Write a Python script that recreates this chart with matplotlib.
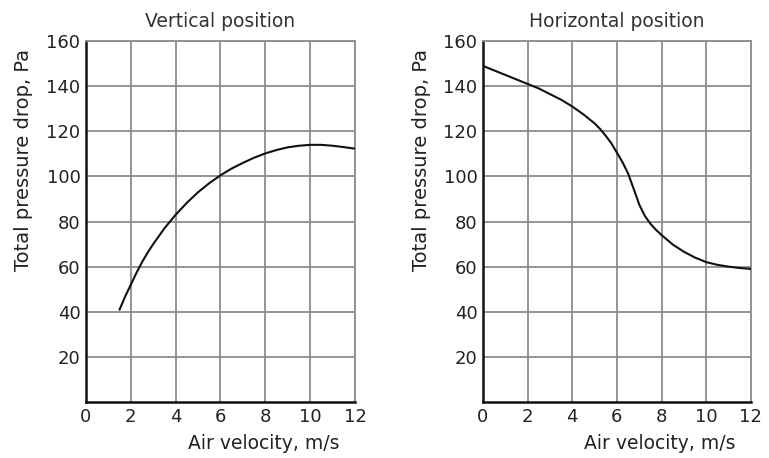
import matplotlib
matplotlib.use('Agg')
import matplotlib.pyplot as plt

plt.rcParams['font.family'] = ['DejaVu Sans']

# values
vert_x = [1.5, 1.75, 2, 2.25, 2.5, 2.75, 3, 3.5, 4, 4.5, 5, 5.5, 6, 6.5, 7, 7.5, 8, 8.5, 9, 9.5, 10, 10.5, 11, 11.5, 12]
vert_y = [41, 46.8, 52, 57.2, 62, 66.2, 70, 77, 83, 88.3, 93, 97, 100.5, 103.5, 106, 108.3, 110.2, 111.7, 112.9, 113.6, 114, 114, 113.6, 113, 112.3]

hor_x = [0, 0.5, 1, 1.5, 2, 2.5, 3, 3.5, 4, 4.5, 5, 5.25, 5.5, 5.75, 6, 6.25, 6.5, 6.75, 7, 7.25, 7.5, 7.75,
         8, 8.5, 9, 9.5, 10, 10.5, 11, 11.5, 12]
hor_y = [149, 147, 145, 143, 141, 139, 136.5, 134, 131, 127.5, 123.5, 121, 118, 114.7, 110.5, 106.3, 101.3, 94.5, 87.5,
         82.5, 79, 76.3, 74, 69.8, 66.6, 64, 62, 60.8, 60, 59.4, 59]

x_ticks = [0, 2, 4, 6, 8, 10, 12]
y_ticks = [20, 40, 60, 80, 100, 120, 140, 160]
titles = ['Vertical position', 'Horizontal position']

fig = plt.figure(figsize=(7.69, 4.58), dpi=100)
ax1 = fig.add_axes([0.1118, 0.1223, 0.3498, 0.788])
ax2 = fig.add_axes([0.628, 0.1223, 0.3485, 0.788])

txt = '#222222'
for ax, xs, ys, title in [(ax1, vert_x, vert_y, titles[0]), (ax2, hor_x, hor_y, titles[1])]:
    ax.plot(xs, ys, color='#111111', lw=1.5, zorder=3)
    ax.set_xlim(0, 12)
    ax.set_ylim(0, 160)
    ax.set_xticks(x_ticks)
    ax.set_yticks(y_ticks)
    ax.grid(True, color='#8c8c8c', lw=1.3)
    ax.set_axisbelow(True)
    ax.tick_params(length=0, labelsize=13, labelcolor=txt, pad=4)
    for side in ['top', 'right']:
        ax.spines[side].set_color('#8c8c8c')
        ax.spines[side].set_linewidth(1.3)
    for side in ['left', 'bottom']:
        ax.spines[side].set_color('#111111')
        ax.spines[side].set_linewidth(1.8)
    ax.set_title(title, fontsize=13.5, color='#333333', pad=10)
    ax.set_xlabel('Air velocity, m/s', fontsize=13.5, color=txt)
    ax.xaxis.set_label_coords(0.66, -0.09)
    ax.xaxis.label.set_va('top')
    ax.set_ylabel('Total pressure drop, Pa', fontsize=14, color=txt)
    ax.yaxis.label.set_va('center')

ax1.yaxis.set_label_coords(-0.234, 0.67)
ax2.yaxis.set_label_coords(-0.228, 0.67)

fig.savefig('out.png', dpi=100)
